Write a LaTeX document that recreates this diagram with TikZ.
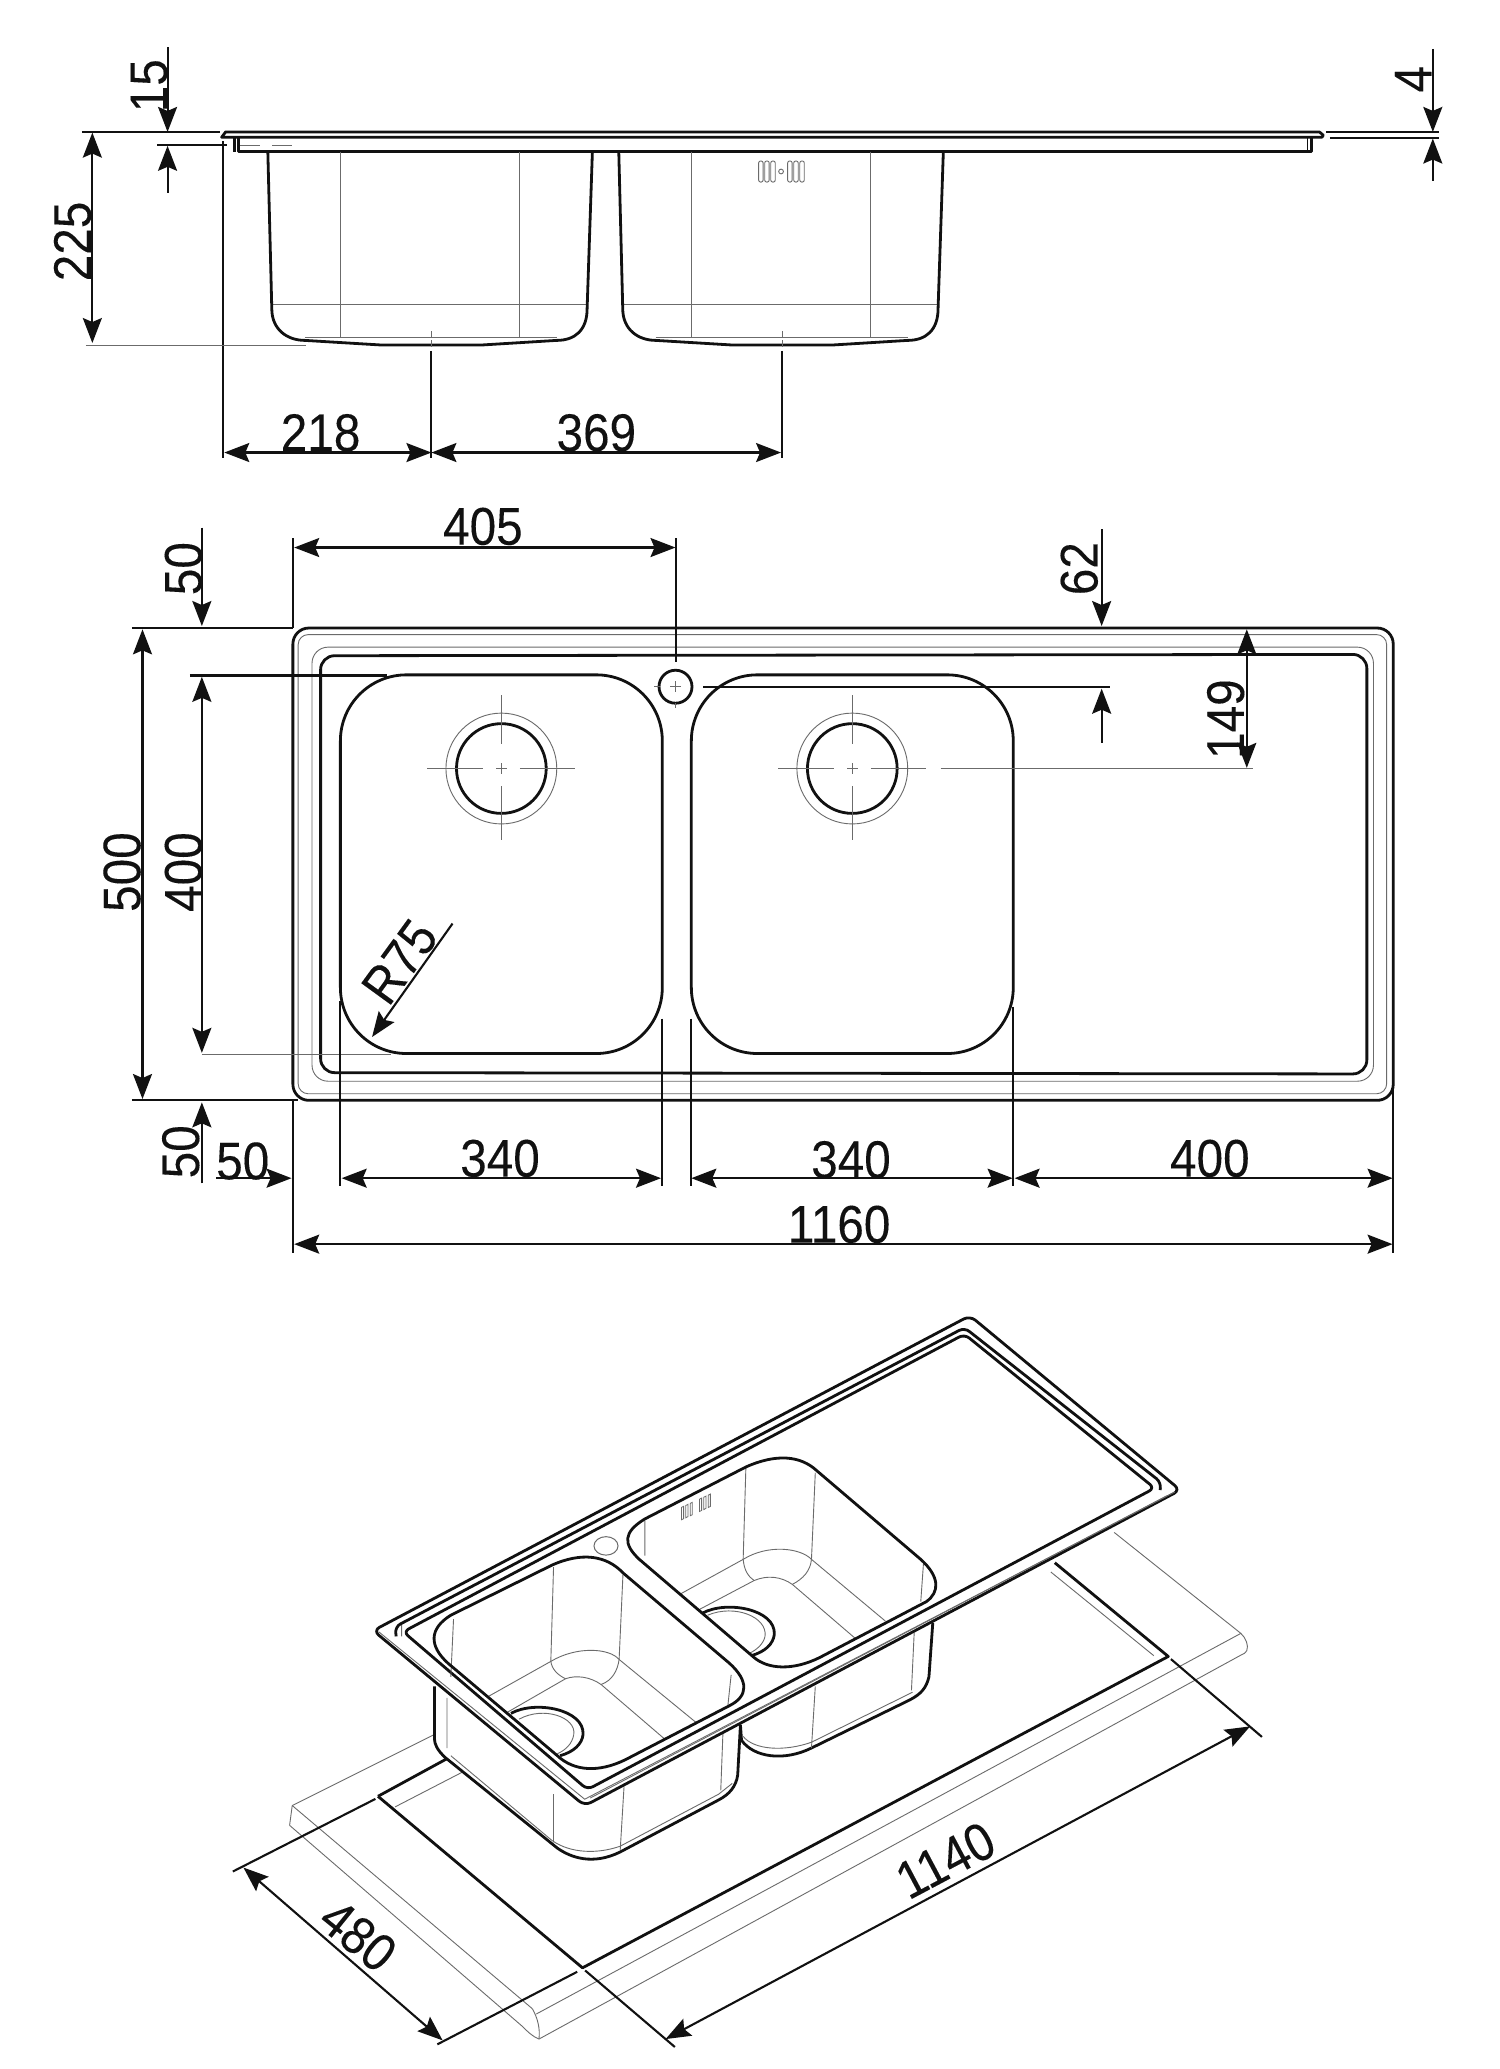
\documentclass[tikz,border=0pt]{standalone}
\usepackage{fontspec}
\setmainfont{Liberation Sans}
\newfontfamily\dimfont[FakeStretch=0.9,FakeBold=0.15]{Liberation Sans}
\usetikzlibrary{arrows.meta}
\definecolor{ink}{HTML}{111111}
\tikzset{
  heavy/.style={line width=1.4pt,draw=ink,line join=round},
  dimline/.style={line width=1.05pt,draw=ink},
  light/.style={line width=0.45pt,draw=black!58},
  dimtwo/.style={dimline,{Stealth[length=12.5pt,width=9.5pt,inset=2pt]}-{Stealth[length=12.5pt,width=9.5pt,inset=2pt]}},
  dimone/.style={dimline,-{Stealth[length=12.5pt,width=9.5pt,inset=2pt]}},
  lab/.style={inner sep=0pt,text=ink,font=\dimfont\fontsize{26.5}{26.5}\selectfont},
  labv/.style={lab,rotate=90}
}
\begin{document}
\begin{tikzpicture}[x=0.65968pt,y=-0.65968pt]
\useasboundingbox (0,0) rectangle (1136.9,1568.2);
\fill[white] (0,0) rectangle (1136.9,1568.2);

%% ---------- side view ----------
\draw[heavy] (168,104)--(171,100)--(1000,100)--(1003,102.5)--(1002,104)--cycle;
\draw[heavy] (178,104)--(178,115);
\draw[heavy] (181,104)--(181,115)--(994,115)--(994,104);
\draw[heavy,line width=.9pt] (991,104)--(991,115);
\draw[light,dashed,dash pattern=on 10pt off 6pt] (182,110)--(230,110);
\foreach \bx in {0,266}{
\begin{scope}[shift={(\bx,0)}]
  \draw[light] (258,115)--(258,256) (394,115)--(394,256);
  \draw[light] (206,231)--(445,231) (231,256)--(422,256);
  \draw[light,line width=.8pt,black!40] (289,262)--(365,262);
  \draw[heavy] (203,115)--(206,234) .. controls (206,250) and (218,258) .. (231,258)
     -- (289,261.5)--(365,261.5)--(422,258) .. controls (436,258) and (445,250) .. (445,234)--(449,115);
  \draw[light] (327,251)--(327,256) (327,258)--(327,263);
\end{scope}}
\foreach \sx in {575,579.6,584.2,597,601.6,606.2}
  \draw[light,rounded corners=1pt] (\sx,122) rectangle ++(3.4,16);
\draw[light] (592,130) circle (1.8);
% dims
\draw[dimline] (62,100)--(167,100);
\draw[dimline] (119,110)--(172,110);
\draw[dimline] (169,107)--(169,347);
\draw[dimone] (127,36)--(127,100);
\draw[dimone] (127,146)--(127,110.5);
\draw[dimtwo] (70,100.5)--(70,260);
\draw[light,line width=.5pt] (65,262)--(232,262);
\draw[dimline] (327,266)--(327,347);
\draw[dimline] (592.5,266)--(592.5,347);
\draw[dimtwo] (170,343)--(327,343);
\draw[dimtwo] (327,343)--(592,343);
\draw[dimone] (1086,37)--(1086,100);
\draw[dimone] (1086,137)--(1086,105);
\draw[dimline] (1005,100)--(1091,100) (1008,104.5)--(1091,104.5);
\node[labv] (t15) at (113,65) {15};
\node[labv] (t225) at (55,183) {225};
\node[labv] (t4) at (1071,60) {4};
\node[lab] (t218) at (243,328) {218};
\node[lab] (t369) at (452,328) {369};

%% ---------- plan view ----------
\draw[heavy,rounded corners=8pt] (222,476) rectangle (1056,834);
\draw[light,rounded corners=5pt] (226,481) rectangle (1051,829);
\draw[light,rounded corners=8pt] (236.5,490.5) rectangle (1041,819.5);
\draw[heavy,rounded corners=7pt] (243,497) -- (1036,496) -- (1036,814) -- (243,813) -- cycle;
\foreach \bx in {258,524}
  \draw[heavy,rounded corners=33pt] (\bx,511.5) rectangle (\bx+244,798.5);
\foreach \dx in {380,646}{
  \draw[light] (\dx,582.5) circle (42);
  \draw[heavy] (\dx,582.5) circle (34);
  \draw[light,line width=.45pt] (\dx-56,582.5)--(\dx-14,582.5) (\dx-4,582.5)--(\dx+4,582.5)
    (\dx,527)--(\dx,564) (\dx,578.5)--(\dx,586.5) (\dx,596)--(\dx,637);
}
\draw[light,line width=.45pt] (380+14,582.5)--(436,582.5) (646+14,582.5)--(702,582.5);
\draw[heavy] (512,520.5) circle (12.5);
\draw[light,line width=.45pt] (508,520.5)--(516,520.5) (512,516.5)--(512,524.5) (496,520.5)--(500,520.5) (512,533)--(512,537);
% dims
\draw[dimline] (100,476)--(222,476) (100,834)--(226,834);
\draw[dimline] (222,408)--(222,476) (222,834)--(222,950);
\draw[dimline] (512.5,408)--(512.5,502);
\draw[dimtwo] (223,415)--(512,415);
\draw[dimone] (153,400)--(153,474.5);
\draw[dimone] (153,897)--(153,835.5);
\draw[dimtwo] (108,477)--(108,833);
\draw[dimtwo] (153,513)--(153,798);
\draw[dimline] (144,512)--(293,512);
\draw[light,line width=.5pt] (153,799)--(296,799);
\draw[dimone] (164,893)--(221,893);
\draw[dimline] (258,759)--(258,899) (501.5,772)--(501.5,899) (523.5,772)--(523.5,899) (768,763)--(768,899) (1056,824)--(1056,950);
\draw[dimtwo] (259,893)--(501,893);
\draw[dimtwo] (524,893)--(767.5,893);
\draw[dimtwo] (769,893)--(1055.5,893);
\draw[dimtwo] (223,943)--(1055.5,943);
\draw[dimone] (835,401)--(835,474.5);
\draw[dimone] (835,563)--(835,522);
\draw[dimline] (533,520.5)--(841,520.5);
\draw[dimtwo] (945,477)--(945,582);
\draw[light,line width=.5pt] (713,582.5)--(950,582.5);
\draw[dimone] (343,700)--(282,786);
\node[labv] (p50a) at (139,431) {50};
\node[labv] (p500) at (92.5,661) {500};
\node[labv] (p400a) at (139,661) {400};
\node[labv] (p50b) at (137,873) {50};
\node[lab] (p50c) at (184,880) {50};
\node[lab] (p405) at (366,399) {405};
\node[lab] (p340a) at (379,878) {340};
\node[lab] (p340b) at (645,879) {340};
\node[lab] (p400b) at (917,878) {400};
\node[lab] (p1160) at (636,928) {1160};
\node[labv] (p62) at (818,431) {62};
\node[labv] (p149) at (929,545) {149};
\node[lab,rotate=54] (pr75) at (303,729) {R75};

%% ---------- perspective view: worktop ----------
\begin{scope}[shift={(1.5,1.5)}]
\draw[light] (298,1368)--(348.7,1341.8);
\draw[light] (220,1367)--(218,1382);
\draw[light] (220,1367)--(331,1311.5);
\draw[light] (220,1367)--(402,1521) (218,1382)--(394,1534);
\draw[light] (394,1534) .. controls (398,1538) and (402,1542) .. (407,1544);
\draw[light] (402,1521) .. controls (406,1528) and (408,1536) .. (407,1544);
\draw[light] (405,1525)--(939,1236.5) .. controls (943,1240) and (945,1246) .. (943.5,1249.5) .. controls (942,1252) and (941,1252) .. (939,1253)--(407,1544);
\draw[light] (843,1160)--(939,1236.5);
\draw[light] (795,1190)--(873,1253.4);
\draw[heavy] (285,1360)--(340,1330);
\draw[heavy] (798,1183)--(884,1254)--(440,1490)--(285,1360);
\draw[dimline] (283,1362)--(175,1417);
\draw[dimline] (436,1493)--(330,1548);
\draw[dimline] (886,1256)--(955,1315);
\draw[dimline] (442,1492)--(510,1550);
\draw[dimtwo] (183,1414)--(334,1545);
\draw[dimtwo] (503,1544)--(946,1307);
\end{scope}
\node[lab,rotate=-39] (t480) at (271.4,1467) {480};
\node[lab,rotate=28] (t1140) at (716.6,1410) {1140};

%% ---------- perspective view: sink (coordinates in a local frame) ----------
\begin{scope}[shift={(263,983.5)},x=0.27322pt,y=-0.19249pt]
  % bowl 2 outside
  \fill[white] (720,1000)--(1072,800)--(1065,985) .. controls (1060,1015) and (1050,1030) .. (1030,1045) -- (850,1170) .. controls (800,1205) and (745,1195) .. (725,1150)--cycle;
  \draw[heavy] (1072,845)--(1065,985) .. controls (1060,1015) and (1050,1030) .. (1030,1045) -- (850,1170) .. controls (800,1205) and (745,1195) .. (722,1150)--(720,1110);
  \draw[light] (1038,870)--(1033,1020) (857,1010)--(850,1170);
  \draw[light] (725,1140) .. controls (745,1175) and (800,1180) .. (850,1155)--(1035,1025);
  % bowl 1 outside
  \fill[white] (160,1000)--(720,1000)--(715,1240) .. controls (712,1270) and (700,1290) .. (680,1305) -- (500,1440) .. controls (450,1475) and (410,1455) .. (385,1430) -- (180,1195) .. controls (165,1175) and (160,1160) .. (160,1145)--cycle;
  \draw[heavy] (160,1010)--(160,1145) .. controls (160,1160) and (165,1175) .. (180,1195) -- (385,1430) .. controls (410,1455) and (450,1475) .. (500,1440) -- (680,1305) .. controls (700,1290) and (712,1270) .. (715,1240)--(720,1110);
  \draw[light] (183,1040)--(183,1170) (378,1290)--(378,1415) (507,1270)--(500,1435) (688,1130)--(684,1280);
  \draw[light] (190,1190)--(375,1410) .. controls (410,1445) and (460,1445) .. (500,1425)--(680,1290)--(705,1262);
  % plate
  \draw[heavy,fill=white,rounded corners=3.5pt] (48,865)--(1140,47)--(1525,500)--(435,1320)--cycle;
  \draw[light] (58,868)--(435,1303)--(1515,505);
  \draw[light] (100,880)--(100,845) (445,1300)--(1500,515);
  \draw[heavy,rounded corners=3pt] (90,880)--(88,855)--(1130,78)--(1490,480)--(1488,500);
  \draw[heavy,rounded corners=3pt] (103,868)--(1130,95)--(1478,495)--(440,1278)--cycle;
  % bowl 2 inside
  \draw[light] (545,580)--(545,670) (1055,690)--(1050,790);
  \draw[light] (730,440)--(725,680) (857,455)--(850,680);
  \draw[light] (610,770)--(725,680) .. controls (770,640) and (830,650) .. (850,680)--(985,840);
  \draw[light] (725,680) .. controls (727,710) and (735,725) .. (745,735);
  \draw[light] (850,680) .. controls (848,710) and (835,730) .. (815,745);
  \draw[light] (645,810)--(745,735) .. controls (770,720) and (795,725) .. (815,745)--(930,885);
  \draw[light] (660,825) .. controls (710,795) and (770,830) .. (765,880) .. controls (762,900) and (750,915) .. (735,925);
  \draw[heavy] (650,820) .. controls (695,785) and (785,810) .. (782,875) .. controls (780,900) and (765,920) .. (740,930);
  \draw[heavy] (545,575)--(730,440) .. controls (785,405) and (830,410) .. (860,450) -- (1050,680) .. controls (1085,725) and (1085,765) .. (1060,790) -- (865,935) .. controls (815,970) and (770,965) .. (745,935) -- (535,680) .. controls (505,640) and (505,610) .. (545,575);
  % bowl 1 inside
  \draw[light] (195,835)--(190,985) (378,700)--(373,945) (505,720)--(498,940) (703,980)--(697,1060);
  \draw[light] (260,1035)--(373,945) .. controls (420,905) and (480,910) .. (498,940)--(640,1105);
  \draw[light] (373,945) .. controls (375,965) and (385,980) .. (400,990);
  \draw[light] (498,940) .. controls (495,970) and (485,995) .. (465,1005);
  \draw[light] (290,1080)--(400,990) .. controls (420,980) and (445,985) .. (465,1005)--(580,1145);
  \draw[light] (315,1095) .. controls (360,1060) and (420,1090) .. (415,1135) .. controls (412,1160) and (400,1175) .. (385,1185);
  \draw[heavy] (300,1080) .. controls (345,1045) and (435,1070) .. (432,1135) .. controls (430,1160) and (415,1180) .. (390,1190);
  \draw[heavy] (190,825)--(375,695) .. controls (430,660) and (475,670) .. (505,715) -- (700,950) .. controls (735,995) and (735,1035) .. (700,1060) -- (510,1200) .. controls (460,1235) and (415,1230) .. (385,1190) -- (185,950) .. controls (150,905) and (150,860) .. (190,825);
  % tap hole and overflow
  \draw[light,line width=.5pt] (474,645) ellipse (22 and 24);
  \foreach \sx in {612,620,628,645,653,661}
    \draw[light,line width=.4pt] (\sx,577-\sx*0.65+398)--(\sx,545-\sx*0.65+398)--(\sx+4,542-\sx*0.65+398)--(\sx+4,574-\sx*0.65+398)--cycle;
\end{scope}
\end{tikzpicture}
\end{document}
